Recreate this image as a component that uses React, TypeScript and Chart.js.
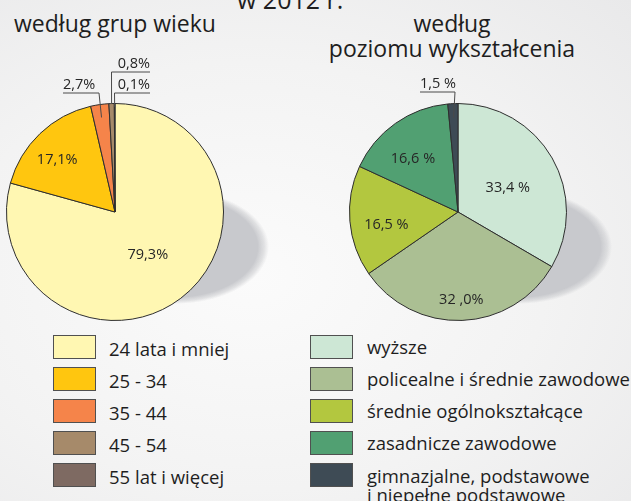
import React, { useEffect, useRef } from 'react';
import { Chart, registerables } from 'chart.js';

Chart.register(...registerables);

// ---------- data ----------
const mainTitle = 'w 2012 r.';
const ageTitleLines = ['według grup wieku'];
const eduTitleLines = ['według', 'poziomu wykształcenia'];

const ageCategories = ['24 lata i mniej', '25 - 34', '35 - 44', '45 - 54', '55 lat i więcej'];
const ageValues = [79.3, 17.1, 2.7, 0.8, 0.1];
const ageValueLabels = ['79,3%', '17,1%', '2,7%', '0,8%', '0,1%'];
const ageColors = ['#FFF7B2', '#FFC60F', '#F5844A', '#A68A6A', '#7E6A62'];

const eduCategories = [
  ['wyższe'],
  ['policealne i średnie zawodowe'],
  ['średnie ogólnokształcące'],
  ['zasadnicze zawodowe'],
  ['gimnazjalne, podstawowe', 'i niepełne podstawowe'],
];
const eduValues = [33.4, 32.0, 16.5, 16.6, 1.5];
const eduValueLabels = ['33,4 %', '32 ,0%', '16,5 %', '16,6 %', '1,5 %'];
const eduColors = ['#CDE7D5', '#ABBF93', '#B3C73F', '#51A072', '#3E4B55'];

// ---------- styling ----------
const FONT = '"Open Sans", "DejaVu Sans", sans-serif';
const TEXT = '#1e1e1e';

type Callout = { index: number; anchorR: number; ex: number; ey: number; endX: number };
type DecorOpts = {
  texts: string[];
  inside: (number | null)[]; // radius factor for inside labels
  insideAngle?: number[];
  callouts: Callout[];
  fontSize: number;
};

// soft elliptical drop shadow drawn behind the pie (radial gradient, no filters)
function drawShadow(ctx: CanvasRenderingContext2D, x: number, y: number) {
  const rx = 94;
  const ry = 57;
  ctx.save();
  ctx.globalCompositeOperation = 'destination-over';
  ctx.translate(x + 60, y + 35);
  ctx.scale(1, ry / rx);
  const g = ctx.createRadialGradient(0, 0, 0, 0, 0, rx);
  g.addColorStop(0, 'rgba(200,201,205,1)');
  g.addColorStop(0.88, 'rgba(200,201,205,1)');
  g.addColorStop(0.95, 'rgba(204,205,208,0.55)');
  g.addColorStop(1, 'rgba(210,211,214,0)');
  ctx.fillStyle = g;
  ctx.beginPath();
  ctx.arc(0, 0, rx, 0, Math.PI * 2);
  ctx.fill();
  ctx.restore();
}

const pieDecor = {
  id: 'pieDecor',
  afterDatasetsDraw(chart: any, _args: any, opts: DecorOpts) {
    const meta = chart.getDatasetMeta(0);
    const ctx = chart.ctx as CanvasRenderingContext2D;
    const first = meta.data[0];
    if (first) drawShadow(ctx, first.x, first.y);
    ctx.save();
    ctx.font = `${opts.fontSize}px ${FONT}`;
    ctx.fillStyle = '#262626';
    meta.data.forEach((el: any, i: number) => {
      const { x, y, startAngle, endAngle, outerRadius } = el;
      const mid = (startAngle + endAngle) / 2 + ((opts.insideAngle && opts.insideAngle[i]) || 0);
      const f = opts.inside[i];
      if (f != null) {
        ctx.textAlign = 'center';
        ctx.textBaseline = 'middle';
        ctx.fillText(opts.texts[i], x + Math.cos(mid) * outerRadius * f, y + Math.sin(mid) * outerRadius * f);
      }
      const c = opts.callouts.find((cc) => cc.index === i);
      if (c) {
        const m = (startAngle + endAngle) / 2;
        const ax = x + Math.cos(m) * outerRadius * c.anchorR;
        const ay = y + Math.sin(m) * outerRadius * c.anchorR;
        const exx = x + c.ex;
        const eyy = y + c.ey;
        const endx = x + c.endX;
        ctx.strokeStyle = '#4a4a4a';
        ctx.lineWidth = 1;
        ctx.beginPath();
        ctx.moveTo(ax, ay);
        ctx.lineTo(exx, eyy);
        ctx.lineTo(endx, eyy);
        ctx.stroke();
        ctx.textBaseline = 'alphabetic';
        ctx.textAlign = endx < exx ? 'left' : 'right';
        ctx.fillText(opts.texts[i], endx, eyy - 4);
      }
    });
    ctx.restore();
  },
};

function PieChart(props: {
  values: number[];
  colors: string[];
  labels: string[];
  decor: DecorOpts;
  padding: { left: number; top: number; right: number; bottom: number };
  width: number;
  height: number;
  style: React.CSSProperties;
}) {
  const ref = useRef<HTMLCanvasElement>(null);
  useEffect(() => {
    if (!ref.current) return;
    const chart = new Chart(ref.current, {
      type: 'pie',
      data: {
        labels: props.labels,
        datasets: [
          {
            data: props.values,
            backgroundColor: props.colors,
            borderColor: '#2e2e2e',
            borderWidth: 1,
          },
        ],
      },
      options: {
        responsive: false,
        animation: false,
        events: [],
        layout: { padding: props.padding },
        plugins: {
          legend: { display: false },
          tooltip: { enabled: false },
          title: { display: false },
          pieDecor: props.decor,
        } as any,
      },
      plugins: [pieDecor as any],
    });
    return () => chart.destroy();
  }, []);
  return <canvas ref={ref} width={props.width} height={props.height} style={{ ...props.style, width: props.width, height: props.height }} />;
}

// text helper: place by baseline
function BText(props: { text: string; x: number; baseline: number; size: number; align?: 'left' | 'center'; width?: number }) {
  const { text, x, baseline, size, align = 'left', width = 400 } = props;
  const top = baseline - size * 0.888;
  const style: React.CSSProperties = {
    position: 'absolute',
    top,
    left: align === 'center' ? x - width / 2 : x,
    width: align === 'center' ? width : undefined,
    textAlign: align,
    fontFamily: FONT,
    fontSize: size,
    lineHeight: `${size}px`,
    color: TEXT,
    whiteSpace: 'nowrap',
  };
  return <div style={style}>{text}</div>;
}

export default function App() {
  useEffect(() => {
    document.body.style.margin = '0';
  }, []);

  const boxTop = (i: number) => 335 + 32 * i;

  return (
    <div
      style={{
        position: 'relative',
        width: 631,
        height: 501,
        overflow: 'hidden',
        background: 'radial-gradient(ellipse at 40% 55%, #fbfbfb 0%, #f3f3f3 55%, #e9e9ea 100%)',
      }}
    >
      <BText text={mainTitle} x={237} baseline={9} size={25} />
      {ageTitleLines.map((t, i) => (
        <BText key={t} text={t} x={115} baseline={32 + 25 * i} size={23} align="center" />
      ))}
      {eduTitleLines.map((t, i) => (
        <BText key={t} text={t} x={452} baseline={32 + 25 * i} size={23} align="center" />
      ))}

      <PieChart
        values={ageValues}
        colors={ageColors}
        labels={ageCategories}
        width={320}
        height={330}
        padding={{ left: 6, top: 103, right: 96, bottom: 9 }}
        style={{ position: 'absolute', left: 0, top: 0 }}
        decor={{
          texts: ageValueLabels,
          inside: [0.5, 0.72, null, null, null],
          insideAngle: [0, -0.07, 0, 0, 0],
          fontSize: 14.5,
          callouts: [
            { index: 2, anchorR: 0.88, ex: -16, ey: -119, endX: -52 },
            { index: 3, anchorR: 1.0, ex: -3.5, ey: -140, endX: 35 },
            { index: 4, anchorR: 0.97, ex: -0.5, ey: -119, endX: 35 },
          ],
        }}
      />
      <PieChart
        values={eduValues}
        colors={eduColors}
        labels={eduCategories.map((l) => l.join(' '))}
        width={311}
        height={330}
        padding={{ left: 29, top: 103, right: 64, bottom: 9 }}
        style={{ position: 'absolute', left: 320, top: 0 }}
        decor={{
          texts: eduValueLabels,
          inside: [0.51, 0.81, 0.67, 0.64, null],
          insideAngle: [0.07, 0, -0.09, -0.09, 0],
          fontSize: 14.5,
          callouts: [{ index: 4, anchorR: 0.87, ex: -3, ey: -120, endX: -38 }],
        }}
      />

      {ageCategories.map((c, i) => (
        <React.Fragment key={c}>
          <div
            style={{
              position: 'absolute',
              left: 53,
              top: boxTop(i),
              width: 41,
              height: 22,
              background: ageColors[i],
              border: '1px solid #505050',
            }}
          />
          <BText text={c} x={109} baseline={boxTop(i) + 21} size={18.5} />
        </React.Fragment>
      ))}
      {eduCategories.map((lines, i) => (
        <React.Fragment key={lines[0]}>
          <div
            style={{
              position: 'absolute',
              left: 310,
              top: boxTop(i),
              width: 41,
              height: 22,
              background: eduColors[i],
              border: '1px solid #505050',
            }}
          />
          {lines.map((t, j) => (
            <BText
              key={t}
              text={t}
              x={367}
              baseline={lines.length > 1 ? 483 + 19 * j : boxTop(i) + 19}
              size={18.5}
            />
          ))}
        </React.Fragment>
      ))}
    </div>
  );
}
